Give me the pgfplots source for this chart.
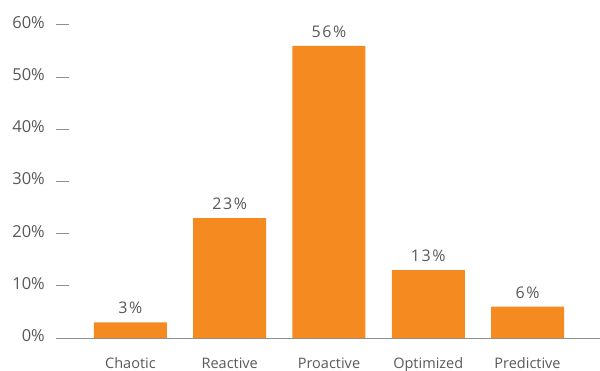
\documentclass[border=0pt]{standalone}
\usepackage{fontspec}
\setmainfont{Open Sans}
\newfontfamily\valfont[LetterSpace=10]{Open Sans}
\usepackage{pgfplots}
\pgfplotsset{compat=1.18}
\usetikzlibrary{calc}
\definecolor{barorange}{HTML}{F58A21}
\definecolor{txtgray}{HTML}{58595B}
\definecolor{axgray}{HTML}{8C8F93}

\begin{document}
\begin{tikzpicture}
\begin{axis}[
  scale only axis, width=544bp, height=313bp,
  xmin=-0.75, xmax=4.73, ymin=0, ymax=60,
  clip=false,
  /pgf/number format/assume math mode=true,
  axis x line=bottom, axis y line=left,
  x axis line style={draw=axgray, line width=1bp, -},
  y axis line style={draw=none},
  ytick={0,10,...,60},
  yticklabel={\pgfmathprintnumber{\tick}\%},
  yticklabel style={anchor=east, inner sep=0pt, xshift=-11bp, yshift=2.5bp,
    font=\fontsize{16.5bp}{19bp}\selectfont, text=txtgray},
  ytick style={draw=axgray, line width=1bp},
  tick align=inside, major tick length=13bp,
  xtick=data,
  xticklabels={Chaotic,Reactive,Proactive,Optimized,Predictive},
  xtick style={draw=none},
  xticklabel style={anchor=base, inner sep=0pt, yshift=-17bp,
    font=\fontsize{14.5bp}{17bp}\selectfont, text=txtgray},
  ybar, bar width=73bp,
  nodes near coords={\pgfmathprintnumber{\pgfplotspointmeta}\%},
  nodes near coords style={font=\valfont\fontsize{16bp}{19bp}\selectfont,
    text=txtgray, anchor=south, inner sep=0pt, yshift=8bp},
]
\addplot[fill=barorange, draw=none] coordinates {
  (0,3) (1,23) (2,56) (3,13) (4,6)
};
\end{axis}
\pgfresetboundingbox
\path ($(current axis.south west)+(-56bp,-33bp)$) rectangle ($(current axis.north east)+(0bp,25bp)$);
\end{tikzpicture}
\end{document}
